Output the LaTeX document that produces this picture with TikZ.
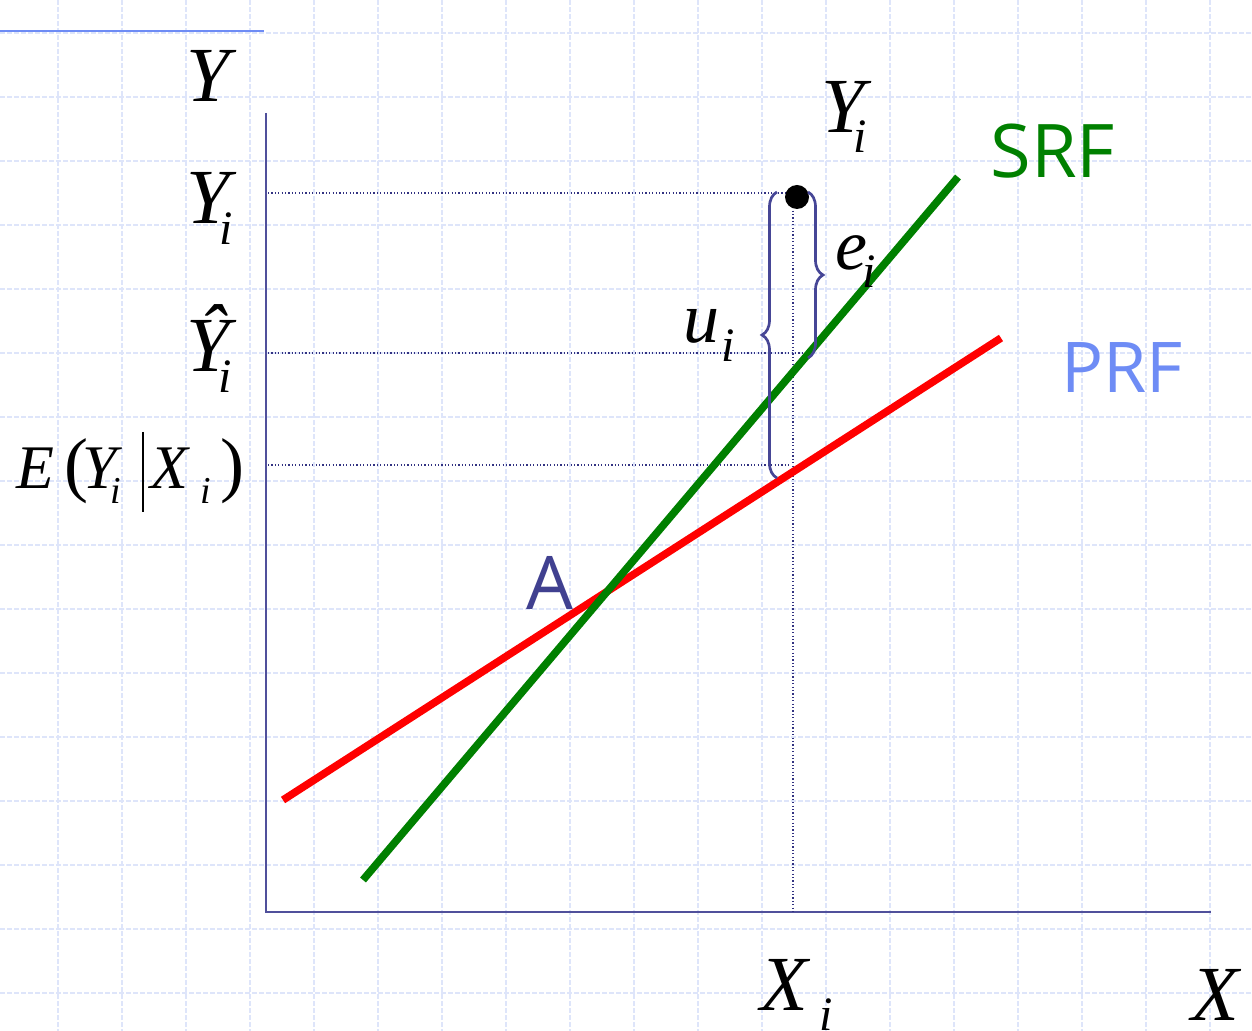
\documentclass[tikz,border=0pt]{standalone}
\usepackage{fontspec}
\setmainfont{Liberation Serif}
\newfontfamily\labsans{Open Sans}
\usetikzlibrary{decorations.pathreplacing}
\definecolor{gridc}{RGB}{222,229,250}
\definecolor{axisc}{RGB}{80,80,155}
\definecolor{bracec}{RGB}{70,70,150}
\definecolor{dotc}{RGB}{50,50,130}
\definecolor{lblue}{RGB}{110,140,245}
\definecolor{srfc}{RGB}{0,128,0}
\definecolor{alab}{RGB}{64,64,144}
\tikzset{
  gridline/.style={gridc, line width=0.7pt, dash pattern=on 2.5pt off 1pt},
  axisline/.style={axisc, line width=1.4pt},
  dotline/.style={dotc, line width=0.75pt, dash pattern=on 0.6pt off 1.1pt},
  srfline/.style={srfc, line width=3.8pt},
  prfline/.style={red, line width=3.8pt},
  bracestyle/.style={bracec, line width=1.35pt, decorate, decoration={brace, amplitude=7.5pt}},
  big/.style={font=\fontsize{39}{39}\selectfont\itshape, inner sep=0pt, anchor=base west},
  mid/.style={font=\fontsize{36}{36}\selectfont\itshape, inner sep=0pt, anchor=base west},
  med/.style={font=\fontsize{31}{31}\selectfont\itshape, inner sep=0pt, anchor=base west},
  paren/.style={font=\fontsize{36}{36}\selectfont, inner sep=0pt, anchor=base west},
  sub/.style={font=\fontsize{24}{24}\selectfont\itshape, inner sep=0pt, anchor=base west},
  smallsub/.style={font=\fontsize{19}{19}\selectfont\itshape, inner sep=0pt, anchor=base west},
  sanslab/.style={font=\labsans\fontsize{37}{37}\selectfont, inner sep=0pt, anchor=base west}
}
\begin{document}
\begin{tikzpicture}[x=0.5pt,y=-0.5pt]
\useasboundingbox (0,0) rectangle (1252,1031);
\clip (0,0) rectangle (1252,1031);
% background grid
\foreach \gx in {58,122,...,1210} \draw[gridline] (\gx,0) -- (\gx,1031);
\foreach \gy in {33,97,...,993} \draw[gridline] (0,\gy) -- (1252,\gy);
% title rule
\coordinate (tl0) at (0,31);
\coordinate (tl1) at (264,31);
\draw[lblue, line width=1pt] (tl0) -- (tl1);
% axes
\coordinate (ytop) at (266,113);
\coordinate (xend) at (1211,912);
\draw[axisline] (ytop) |- (xend);
% guide lines
\coordinate (pt) at (797,197);
\coordinate (vtop) at (793,197);
\coordinate (xi) at (793,912);
\draw[dotline] (vtop) -- (xi);
\coordinate (h1a) at (268,193); \coordinate (h1b) at (790,193);
\coordinate (h2a) at (268,353); \coordinate (h2b) at (802,353);
\coordinate (h3a) at (268,465); \coordinate (h3b) at (790,465);
\draw[dotline] (h1a) -- (h1b);
\draw[dotline] (h2a) -- (h2b);
\draw[dotline] (h3a) -- (h3b);
% regression lines
\coordinate (s0) at (363,880); \coordinate (s1) at (958,177);
\coordinate (p0) at (283,800); \coordinate (p1) at (1001,338);
\draw[prfline] (p0) -- (p1);
\draw[srfline] (s0) -- (s1);
% observation
\fill[black] (pt) circle[radius=12];
% braces
\coordinate (ub) at (777,478); \coordinate (ut) at (777,192);
\coordinate (et) at (808,192); \coordinate (eb) at (808,358);
\draw[bracestyle] (ub) -- (ut);
\draw[bracestyle] (et) -- (eb);
% axis labels
\node[big] (ylab) at (186,102) {Y};
\node[big] (yi) at (186,224) {Y};
\node[sub] (yisub) at (219,245) {i};
\node[big] (yhat) at (186,372) {\^{Y}};
\node[sub] (yhatsub) at (218,393) {i};
% E(Y_i | X_i)
\node[med] (eE) at (16,488) {E};
\node[paren] (eL) at (64,488) {(};
\node[med] (eY) at (82,488) {Y};
\node[smallsub] (eYi) at (110,503) {i};
\coordinate (bar0) at (143,432); \coordinate (bar1) at (143,512);
\draw[black, line width=1.3pt] (bar0) -- (bar1);
\node[med] (eX) at (150,488) {X};
\node[smallsub] (eXi) at (200,503) {i};
\node[paren] (eR) at (220,488) {)};
% point labels
\node[big] (ytopl) at (821,133) {Y};
\node[sub] (ytopsub) at (853,153) {i};
\node[mid] (ul) at (683,343) {u};
\node[sub] (ulsub) at (721,362) {i};
\node[mid] (el) at (835,270) {e};
\node[sub] (elsub) at (862,288) {i};
\node[big] (xil) at (760,1010) {X};
\node[sub] (xisub) at (819,1030) {i};
\node[big] (xl) at (1191,1020) {X};
% line labels
\node[sanslab, srfc] (srf) at (990,178) {SRF};
\node[sanslab, lblue, font=\labsans\fontsize{35}{35}\selectfont] (prf) at (1061,393) {PRF};
\node[sanslab, alab] (alabel) at (526,609) {A};
\end{tikzpicture}
\end{document}
